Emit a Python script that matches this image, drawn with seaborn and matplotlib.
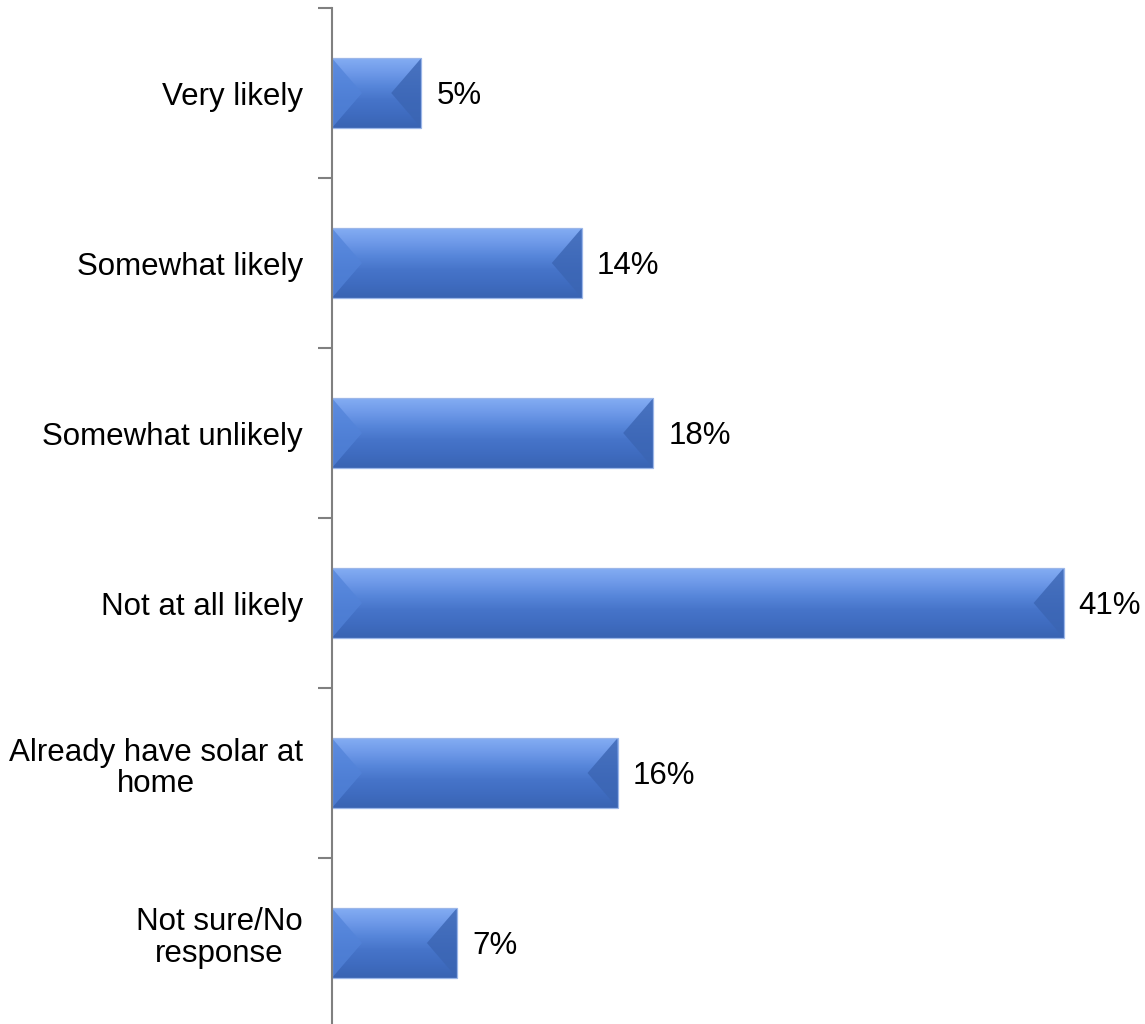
import matplotlib
matplotlib.use("Agg")
import matplotlib.pyplot as plt
from matplotlib.patches import Polygon
from matplotlib.ticker import FixedLocator
from matplotlib.colors import LinearSegmentedColormap
from matplotlib.transforms import ScaledTranslation
import numpy as np
import seaborn as sns
import pandas as pd

categories = ["Very likely", "Somewhat likely", "Somewhat unlikely",
              "Not at all likely", "Already have solar at\nhome",
              "Not sure/No\nresponse"]
values = [5, 14, 18, 41, 16, 7]
value_labels = ["5%", "14%", "18%", "41%", "16%", "7%"]

df = pd.DataFrame({"category": categories, "share": values})

sns.set_theme(style="white")
plt.rcParams["font.family"] = ["Liberation Sans", "DejaVu Sans"]

W, H = 1145, 1024
fig = plt.figure(figsize=(W / 100, H / 100), dpi=100)
ax = fig.add_axes([332 / W, -4 / H, 803 / W, 1020 / H])

base = "#4a7bd2"
sns.barplot(data=df, x="share", y="category", orient="h", color=base,
            width=0.41, saturation=1, ax=ax, edgecolor="none", linewidth=0)

ax.set_xlim(0, 45)
ax.set_ylim(len(categories) - 0.5, -0.5)

# vertical gradient fill with bevelled ends on each bar
grad = LinearSegmentedColormap.from_list(
    "bar_grad", ["#84adf3", "#6f9ae9", "#5786da", "#4674c9", "#3f6cc0", "#3963b2"])
ramp = np.linspace(0, 1, 256).reshape(-1, 1)
px_x = 803 / 45.0      # pixels per data unit in x
for p in list(ax.patches):
    x0, y0 = p.get_x(), p.get_y()
    w, h = p.get_width(), p.get_height()
    x1, y1 = x0 + w, y0 + h
    ym = y0 + h / 2
    z = p.get_zorder()
    img = ax.imshow(ramp, cmap=grad, aspect="auto", extent=(x0, x1, y1, y0),
                    origin="upper", zorder=z + 0.05, interpolation="bilinear")
    img.set_clip_path(p)
    dx = 30 / px_x
    ax.add_patch(Polygon([(x0, y0), (x0 + dx, ym), (x0, y1)], closed=True,
                         facecolor="#5283d9", edgecolor="none", alpha=0.75,
                         zorder=z + 0.1))
    ax.add_patch(Polygon([(x1, y0), (x1 - dx, ym), (x1, y1)], closed=True,
                         facecolor="#3b65b3", edgecolor="none", alpha=0.8,
                         zorder=z + 0.1))
    ax.add_patch(Polygon([(x0, y0), (x1, y0), (x1, y1), (x0, y1)], closed=True,
                         facecolor="none", edgecolor="#9bb6e8", linewidth=0.9,
                         zorder=z + 0.2))
    ax.set_xlim(0, 45)
    ax.set_ylim(len(categories) - 0.5, -0.5)

for i, (v, lab) in enumerate(zip(values, value_labels)):
    ax.text(v + 15 / px_x, i + 0.02, lab, ha="left", va="center", fontsize=22.5,
            color="black")

ax.set_xlabel("")
ax.set_ylabel("")
ax.set_xticks([])
ax.set_yticks(range(len(categories)))
ax.set_yticklabels(categories, fontsize=22.5, color="black",
                   multialignment="center", linespacing=1.05)
ax.tick_params(axis="y", which="major", length=0, pad=21)
ax.yaxis.set_minor_locator(FixedLocator([i - 0.5 for i in range(len(categories) + 1)]))
ax.tick_params(axis="y", which="minor", length=10, width=1.5, color="#808080",
               direction="out", left=True)

# two-line category labels sit a little higher than the bar centre
lift = ScaledTranslation(0, 9 / 100, fig.dpi_scale_trans)
for lbl in ax.get_yticklabels():
    if "\n" in lbl.get_text():
        lbl.set_transform(lbl.get_transform() + lift)

for s in ["top", "right", "bottom"]:
    ax.spines[s].set_visible(False)
ax.spines["left"].set_color("#808080")
ax.spines["left"].set_linewidth(1.5)
ax.spines["left"].set_zorder(5)

fig.savefig("out.png", dpi=100, facecolor="white")
